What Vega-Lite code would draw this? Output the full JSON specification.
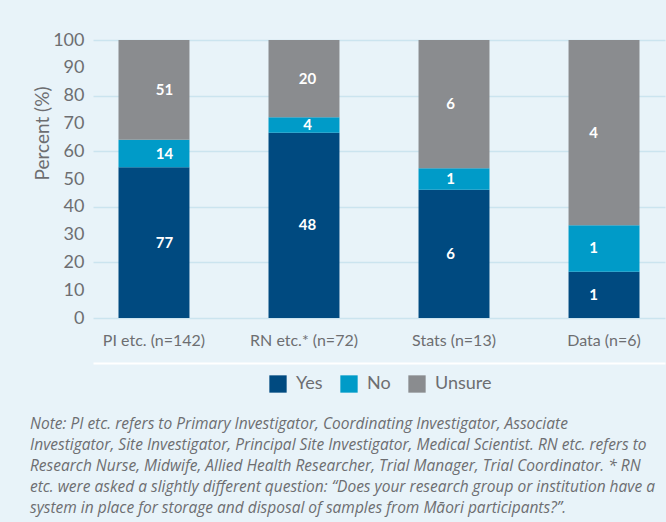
{
  "$schema": "https://vega.github.io/schema/vega-lite/v6.json",
  "width": 572,
  "height": 278,
  "autosize": {"type": "none"},
  "padding": {"left": 93, "top": 40, "right": 1, "bottom": 204},
  "background": "#e8f3f9",
  "data": {
    "values": [
      {"group": "PI etc. (n=142)", "response": "Yes", "rank": 1, "pct": 54.23, "count": 77},
      {"group": "PI etc. (n=142)", "response": "No", "rank": 2, "pct": 9.86, "count": 14},
      {"group": "PI etc. (n=142)", "response": "Unsure", "rank": 3, "pct": 35.92, "count": 51},
      {"group": "RN etc.* (n=72)", "response": "Yes", "rank": 1, "pct": 66.67, "count": 48},
      {"group": "RN etc.* (n=72)", "response": "No", "rank": 2, "pct": 5.56, "count": 4},
      {"group": "RN etc.* (n=72)", "response": "Unsure", "rank": 3, "pct": 27.78, "count": 20},
      {"group": "Stats (n=13)", "response": "Yes", "rank": 1, "pct": 46.15, "count": 6},
      {"group": "Stats (n=13)", "response": "No", "rank": 2, "pct": 7.69, "count": 1},
      {"group": "Stats (n=13)", "response": "Unsure", "rank": 3, "pct": 46.15, "count": 6},
      {"group": "Data (n=6)", "response": "Yes", "rank": 1, "pct": 16.67, "count": 1},
      {"group": "Data (n=6)", "response": "No", "rank": 2, "pct": 16.67, "count": 1},
      {"group": "Data (n=6)", "response": "Unsure", "rank": 3, "pct": 66.67, "count": 4}
    ]
  },
  "title": {
    "text": [
      "Note: PI etc. refers to Primary Investigator, Coordinating Investigator, Associate",
      "Investigator, Site Investigator, Principal Site Investigator, Medical Scientist. RN etc. refers to",
      "Research Nurse, Midwife, Allied Health Researcher, Trial Manager, Trial Coordinator. * RN",
      "etc. were asked a slightly different question: “Does your research group or institution have a",
      "system in place for storage and disposal of samples from Māori participants?”."
    ],
    "orient": "bottom",
    "anchor": "start",
    "frame": "group",
    "dx": -63,
    "offset": 24,
    "font": "Open Sans",
    "fontSize": 15.5,
    "fontStyle": "italic",
    "fontWeight": "normal",
    "color": "#6d6e71",
    "lineHeight": 21
  },
  "layer": [
    {
      "mark": {"type": "bar"},
      "encoding": {
        "x": {
          "field": "group",
          "type": "nominal",
          "sort": ["PI etc. (n=142)", "RN etc.* (n=72)", "Stats (n=13)", "Data (n=6)"],
          "scale": {"paddingInner": 0.527, "paddingOuter": 0.17},
          "axis": {
            "orient": "bottom",
            "title": null,
            "domain": false,
            "ticks": false,
            "labelAngle": 0,
            "labelPadding": 14,
            "labelFontSize": 16,
            "labelColor": "#6d6e71",
            "labelFont": "Lato",
            "grid": false
          }
        },
        "y": {
          "field": "pct",
          "type": "quantitative",
          "stack": "zero",
          "scale": {"domain": [0, 100]},
          "axis": {
            "title": "Percent (%)",
            "values": [0, 10, 20, 30, 40, 50, 60, 70, 80, 90, 100],
            "labelOverlap": false,
            "domain": false,
            "ticks": false,
            "labelPadding": 9,
            "labelFontSize": 18,
            "labelColor": "#6d6e71",
            "labelFont": "Lato",
            "titleFont": "Lato",
            "titleFontSize": 19,
            "titleFontWeight": "normal",
            "titleColor": "#6d6e71",
            "titleAngle": 270,
            "titleX": -51,
            "titleY": 93,
            "titleAlign": "center",
            "titleBaseline": "middle",
            "grid": true,
            "gridColor": {"condition": {"test": "datum.value % 20 === 0", "value": "#cbe4ef"}, "value": "transparent"},
            "gridWidth": 1.5
          }
        },
        "order": {"field": "rank", "type": "quantitative"},
        "color": {
          "field": "response",
          "type": "nominal",
          "scale": {"domain": ["Yes", "No", "Unsure"], "range": ["#004a80", "#009bc8", "#8a8c8f"]},
          "legend": {
            "title": null,
            "orient": "none",
            "legendX": 176,
            "legendY": 335,
            "direction": "horizontal",
            "symbolType": "square",
            "symbolSize": 300,
            "symbolStrokeWidth": 0,
            "labelFontSize": 18,
            "labelOffset": 9,
            "labelColor": "#6d6e71",
            "labelFont": "Lato",
            "columnPadding": 17
          }
        }
      }
    },
    {
      "mark": {"type": "text", "color": "white", "font": "Lato", "fontSize": 15, "fontWeight": "bold"},
      "encoding": {
        "x": {
          "field": "group",
          "type": "nominal",
          "sort": ["PI etc. (n=142)", "RN etc.* (n=72)", "Stats (n=13)", "Data (n=6)"],
          "scale": {"paddingInner": 0.527, "paddingOuter": 0.17},
          "axis": {
            "orient": "bottom",
            "title": null,
            "labels": false,
            "ticks": false,
            "grid": false,
            "domain": true,
            "domainColor": "white",
            "domainWidth": 2,
            "offset": 45
          }
        },
        "y": {
          "field": "pct",
          "type": "quantitative",
          "stack": "zero",
          "bandPosition": 0.5,
          "scale": {"domain": [0, 100]},
          "axis": {
            "title": "Percent (%)",
            "values": [0, 10, 20, 30, 40, 50, 60, 70, 80, 90, 100],
            "labelOverlap": false,
            "domain": false,
            "ticks": false,
            "labelPadding": 9,
            "labelFontSize": 18,
            "labelColor": "#6d6e71",
            "labelFont": "Lato",
            "titleFont": "Lato",
            "titleFontSize": 19,
            "titleFontWeight": "normal",
            "titleColor": "#6d6e71",
            "titleAngle": 270,
            "titleX": -51,
            "titleY": 93,
            "titleAlign": "center",
            "titleBaseline": "middle",
            "grid": true,
            "gridColor": {"condition": {"test": "datum.value % 20 === 0", "value": "#cbe4ef"}, "value": "transparent"},
            "gridWidth": 1.5
          }
        },
        "order": {"field": "rank", "type": "quantitative"},
        "detail": {"field": "response"},
        "text": {"field": "count", "type": "quantitative"}
      }
    }
  ],
  "resolve": {"scale": {"x": "independent"}, "axis": {"x": "independent"}},
  "config": {"view": {"stroke": null}, "font": "Lato"}
}
